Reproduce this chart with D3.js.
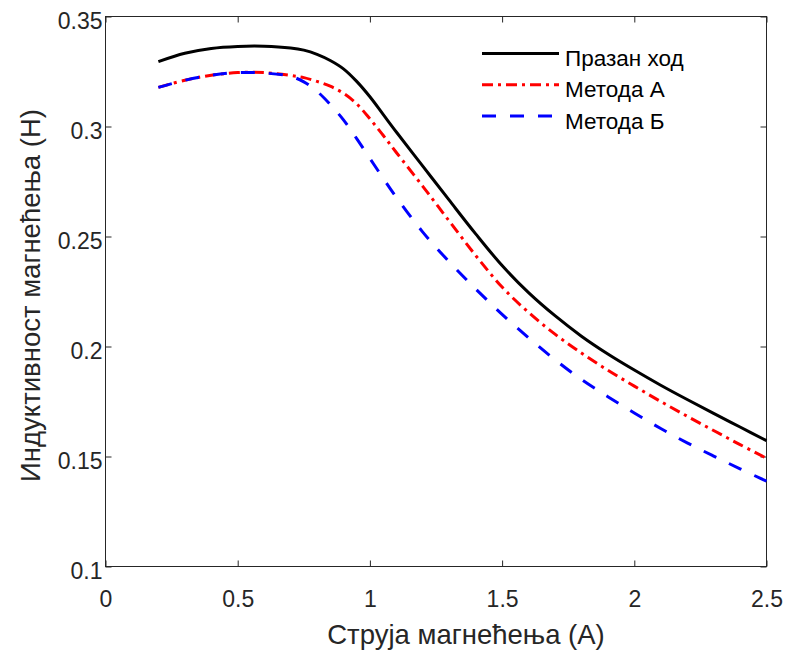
<!DOCTYPE html>
<html><head><meta charset="utf-8">
<script src="https://cdn.jsdelivr.net/npm/d3@7"></script>
<style>body{margin:0;background:#fff}svg{display:block}text{font-family:"Liberation Sans",Arial,sans-serif}</style>
</head><body>
<svg id="c" width="794" height="650"></svg>
<script>
const current = [0.2,0.3,0.4,0.5,0.6,0.7,0.75,0.8,0.85,0.9,0.95,1.0,1.05,1.1,1.2,1.3,1.4,1.5,1.6,1.7,1.8,1.9,2.0,2.1,2.2,2.3,2.4,2.5];
const noLoad  = [0.3295,0.3333,0.3355,0.3364,0.3365,0.3357,0.3347,0.3328,0.3300,0.3262,0.3205,0.3135,0.3055,0.2975,0.2820,0.2665,0.2512,0.2368,0.2245,0.2140,0.2047,0.1966,0.1893,0.1824,0.1759,0.1696,0.1634,0.1572];
const methodA = [0.3178,0.3210,0.3233,0.3245,0.3245,0.3232,0.3222,0.3205,0.3183,0.3151,0.3103,0.3035,0.2960,0.2882,0.2728,0.2570,0.2414,0.2270,0.2155,0.2056,0.1970,0.1892,0.1820,0.1750,0.1683,0.1618,0.1554,0.1492];
const methodB = [0.3178,0.3210,0.3233,0.3245,0.3243,0.3228,0.3203,0.3160,0.3100,0.3030,0.2945,0.2855,0.2765,0.2678,0.2520,0.2385,0.2262,0.2146,0.2040,0.1940,0.1850,0.1772,0.1698,0.1627,0.1562,0.1502,0.1444,0.1388];
const seriesNames = ["Празан ход","Метода А","Метода Б"];
const xTicks = [0,0.5,1,1.5,2,2.5];
const yTicks = [0.1,0.15,0.2,0.25,0.3,0.35];
const xTitle = "Струја магнећења (А)";
const yTitle = "Индуктивност магнећења (Н)";

const svg = d3.select("#c");
const L=105.5, R=766.5, T=16.5, B=566.5;
const x = d3.scaleLinear().domain([0,2.5]).range([L,R]);
const y = d3.scaleLinear().domain([0.1,0.35]).range([B,T]);
const axCol = "#262626";

svg.append("rect").attr("x",L).attr("y",T).attr("width",R-L).attr("height",B-T)
  .attr("fill","none").attr("stroke",axCol).attr("stroke-width",1);

const fmt = d => String(d);
const xb = svg.append("g").attr("transform",`translate(0,${B})`)
  .call(d3.axisBottom(x).tickValues(xTicks).tickFormat(fmt).tickSizeInner(-6).tickSizeOuter(0).tickPadding(24));
const xt = svg.append("g").attr("transform",`translate(0,${T})`)
  .call(d3.axisTop(x).tickValues(xTicks).tickFormat("").tickSizeInner(-6).tickSizeOuter(0));
const yl = svg.append("g").attr("transform",`translate(${L},0)`)
  .call(d3.axisLeft(y).tickValues(yTicks).tickFormat(fmt).tickSizeInner(-6).tickSizeOuter(0).tickPadding(3));
const yr = svg.append("g").attr("transform",`translate(${R},0)`)
  .call(d3.axisRight(y).tickValues(yTicks).tickFormat("").tickSizeInner(-6).tickSizeOuter(0));
[xb,xt,yl,yr].forEach(g=>{
  g.select(".domain").remove();
  g.selectAll("line").attr("stroke",axCol);
  g.selectAll("text").attr("fill",axCol).style("font-size","23px");
});
yl.selectAll("text").attr("dy","0.5em");

svg.append("text").attr("x",466).attr("y",644).attr("text-anchor","middle")
  .attr("fill",axCol).style("font-size","27.5px").text(xTitle);
svg.append("text").attr("transform",`translate(40,${(T+B)/2 + 4}) rotate(-90)`).attr("text-anchor","middle")
  .attr("fill",axCol).style("font-size","27.5px").text(yTitle);

const styles = [
  {data:noLoad, color:"#000000", dash:null},
  {data:methodA, color:"#ff0000", dash:"11,5,3,5"},
  {data:methodB, color:"#0000ff", dash:"14,14"}
];
const line = d3.line().x(d=>x(d[0])).y(d=>y(d[1])).curve(d3.curveCatmullRom.alpha(0.5));
styles.forEach(s=>{
  svg.append("path").datum(current.map((c,i)=>[c,s.data[i]]))
    .attr("d",line).attr("fill","none").attr("stroke",s.color).attr("stroke-width",3)
    .attr("stroke-dasharray",s.dash);
});

const lg = svg.append("g");
seriesNames.forEach((n,i)=>{
  const yy = 53.5 + i*31.3;
  lg.append("line").attr("x1",482).attr("x2",559).attr("y1",yy).attr("y2",yy)
    .attr("stroke",styles[i].color).attr("stroke-width",3).attr("stroke-dasharray",styles[i].dash);
  lg.append("text").attr("x",565).attr("y",yy+12.4).attr("fill","#000").style("font-size","22.5px").text(n);
});
</script>
</body></html>
